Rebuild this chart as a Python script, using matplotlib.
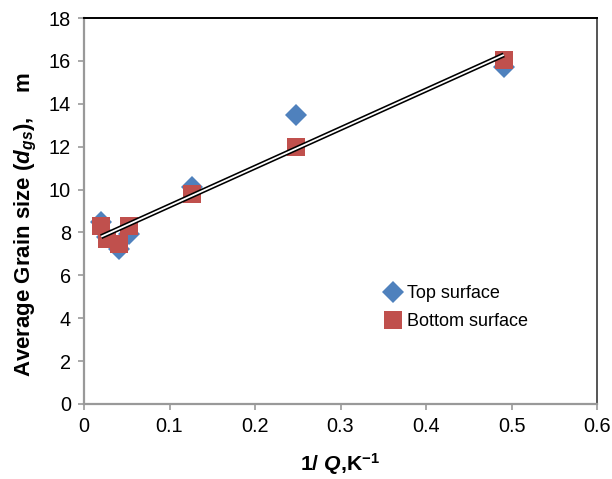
import matplotlib
matplotlib.use("Agg")
import matplotlib.pyplot as plt
import numpy as np

plt.rcParams["font.family"] = ["Liberation Sans", "DejaVu Sans"]
plt.rcParams["mathtext.fontset"] = "custom"
plt.rcParams["mathtext.rm"] = "Liberation Sans"
plt.rcParams["mathtext.bf"] = "Liberation Sans:bold"
plt.rcParams["mathtext.it"] = "Liberation Sans:italic"
plt.rcParams["mathtext.bfit"] = "Liberation Sans:italic:bold"

# 1/Q values and grain sizes
inv_q_top = [0.020, 0.027, 0.041, 0.053, 0.126, 0.248, 0.491]
size_top = [8.5, 7.8, 7.25, 7.95, 10.1, 13.5, 15.7]
inv_q_bottom = [0.020, 0.027, 0.041, 0.053, 0.126, 0.248, 0.491]
size_bottom = [8.3, 7.7, 7.45, 8.3, 9.8, 12.0, 16.05]

blue = "#4F81BD"
red = "#C0504D"
grey = "#999999"

fig = plt.figure(figsize=(6.12, 4.79), dpi=100)
ax = fig.add_axes([0.1373, 0.1566, 0.8382, 0.8058])

ax.plot(inv_q_top, size_top, "D", color=blue, markersize=11,
        markeredgewidth=0, label="Top surface", zorder=3)
ax.plot(inv_q_bottom, size_bottom, "s", color=red, markersize=13.2,
        markeredgewidth=0, label="Bottom surface", zorder=4)

# one linear trendline over all points, drawn as a double line
xs_all = np.array(inv_q_top + inv_q_bottom)
ys_all = np.array(size_top + size_bottom)
k, b = np.polyfit(xs_all, ys_all, 1)
xx = np.array([xs_all.min(), xs_all.max()])
ax.plot(xx, k * xx + b, color="black", lw=3.6, zorder=5,
        solid_capstyle="butt")
ax.plot(xx, k * xx + b, color="white", lw=1.3, zorder=6,
        solid_capstyle="butt")

ax.set_xlim(0, 0.6)
ax.set_ylim(0, 18)
ax.set_xticks(np.arange(0, 0.61, 0.1))
ax.set_xticklabels(["0", "0.1", "0.2", "0.3", "0.4", "0.5", "0.6"])
ax.set_yticks(np.arange(0, 19, 2))

ax.tick_params(axis="both", direction="out", length=4, width=1.2,
               color=grey, labelsize=14.3, pad=5.5)
ax.spines["left"].set_color(grey)
ax.spines["bottom"].set_color(grey)
ax.spines["left"].set_linewidth(1.6)
ax.spines["bottom"].set_linewidth(1.6)
ax.spines["top"].set_color("black")
ax.spines["top"].set_linewidth(1.4)
ax.spines["right"].set_color("#555555")
ax.spines["right"].set_linewidth(1.4)

ax.set_xlabel(r"1/ $\mathbfit{Q}$,K$^{\mathbf{-1}}$", fontsize=15.3,
              fontweight="bold", labelpad=11)
ax.set_ylabel(r"Average Grain size ($\mathbfit{d}_{\mathbfit{gs}}$),    m",
              fontsize=16, fontweight="bold")
ax.yaxis.set_label_coords(-0.088, 0.465)

ax.legend(loc="upper left", bbox_to_anchor=(0.57, 0.327), frameon=False,
          fontsize=13, handletextpad=0.3, labelspacing=0.6,
          handlelength=1.0, borderaxespad=0)

fig.savefig("out.png", dpi=100)
